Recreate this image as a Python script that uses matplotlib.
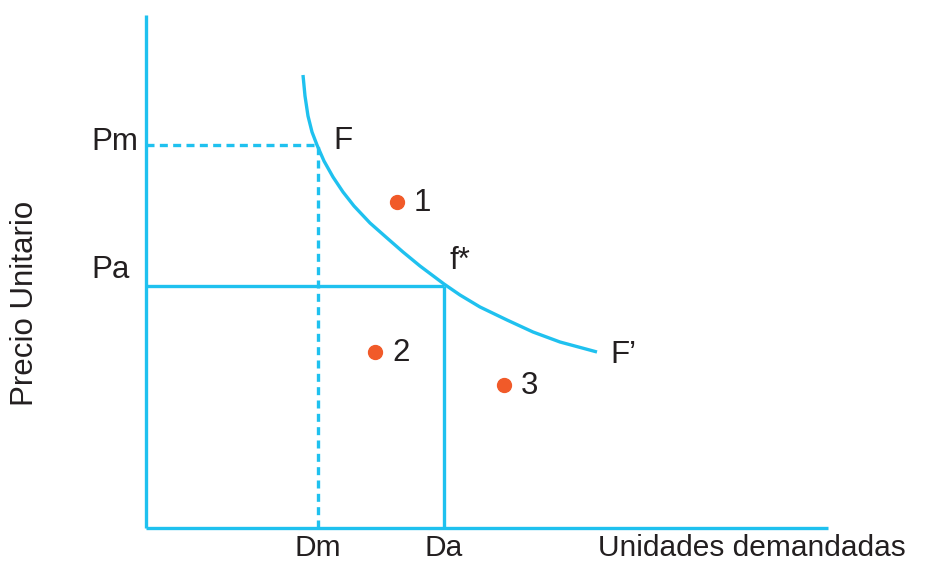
import matplotlib.pyplot as plt

# Colores
azul = "#1FC1EF"
naranja = "#F15A29"
negro = "#231F20"

# Origen en la esquina de los ejes (unidades ~ pixeles)
x_fin, y_fin = 682, 513
pm, pa = 383, 242
dm, da = 172, 298

# Curva F - F'
curva_x = [157, 159, 162, 166, 171, 178, 187, 197, 208, 224, 241, 257, 274,
           298, 314, 334, 361, 387, 414, 451]
curva_y = [453, 432, 412, 396, 383, 367, 351, 336, 322, 305, 290, 276, 262,
           244, 233, 221, 208, 196, 186, 176]

# Puntos 1, 2, 3
puntos_x = [251, 229, 358]
puntos_y = [326, 176, 143]
puntos_txt = ["1", "2", "3"]

plt.rcParams["font.family"] = ["Liberation Sans", "DejaVu Sans"]

fig = plt.figure(figsize=(9.36, 5.62), dpi=100)
ax = fig.add_axes([0, 0, 1, 1])
ax.set_xlim(-146, 936 - 146)
ax.set_ylim(-(562 - 528), 528)
ax.axis("off")

lw = 2.4
# ejes
ax.plot([0, 0], [0, y_fin], color=azul, lw=lw, solid_capstyle="butt")
ax.plot([0, x_fin], [0, 0], color=azul, lw=lw, solid_capstyle="butt")

# lineas punteadas Pm / Dm
ax.plot([0, dm], [pm, pm], color=azul, lw=lw, linestyle=(0, (2.4, 1.6)))
ax.plot([dm, dm], [0, pm], color=azul, lw=lw, linestyle=(0, (2.4, 1.6)))

# lineas solidas Pa / Da
ax.plot([0, da], [pa, pa], color=azul, lw=lw, solid_capstyle="butt")
ax.plot([da, da], [0, pa], color=azul, lw=lw, solid_capstyle="butt")

# curva
ax.plot(curva_x, curva_y, color=azul, lw=lw, solid_capstyle="butt",
        solid_joinstyle="round")

# puntos
ax.plot(puntos_x, puntos_y, "o", color=naranja, markersize=10)

fs = 22.5
for x, y, t in zip(puntos_x, puntos_y, puntos_txt):
    ax.text(x + 17, y - 1, t, fontsize=fs, color=negro, va="center", ha="left")

ax.text(187, 387, "F", fontsize=fs, color=negro, va="center", ha="left")
ax.text(304, 267, "f*", fontsize=fs, color=negro, va="center", ha="left")
ax.text(464, 173, "F\u2019", fontsize=fs, color=negro, va="center", ha="left")
ax.text(-55, pm + 3, "Pm", fontsize=fs, color=negro, va="center", ha="left")
ax.text(-55, 258, "Pa", fontsize=fs, color=negro, va="center", ha="left")

fs_b = 21.5
ax.text(dm, -28, "Dm", fontsize=fs_b, color=negro, va="baseline", ha="center")
ax.text(da, -28, "Da", fontsize=fs_b, color=negro, va="baseline", ha="center")
ax.text(452, -28, "Unidades demandadas", fontsize=fs_b, color=negro,
        va="baseline", ha="left")
ax.text(-121, 225, "Precio Unitario", fontsize=fs, color=negro, va="center",
        ha="center", rotation=90)

fig.savefig("out.png", dpi=100)
